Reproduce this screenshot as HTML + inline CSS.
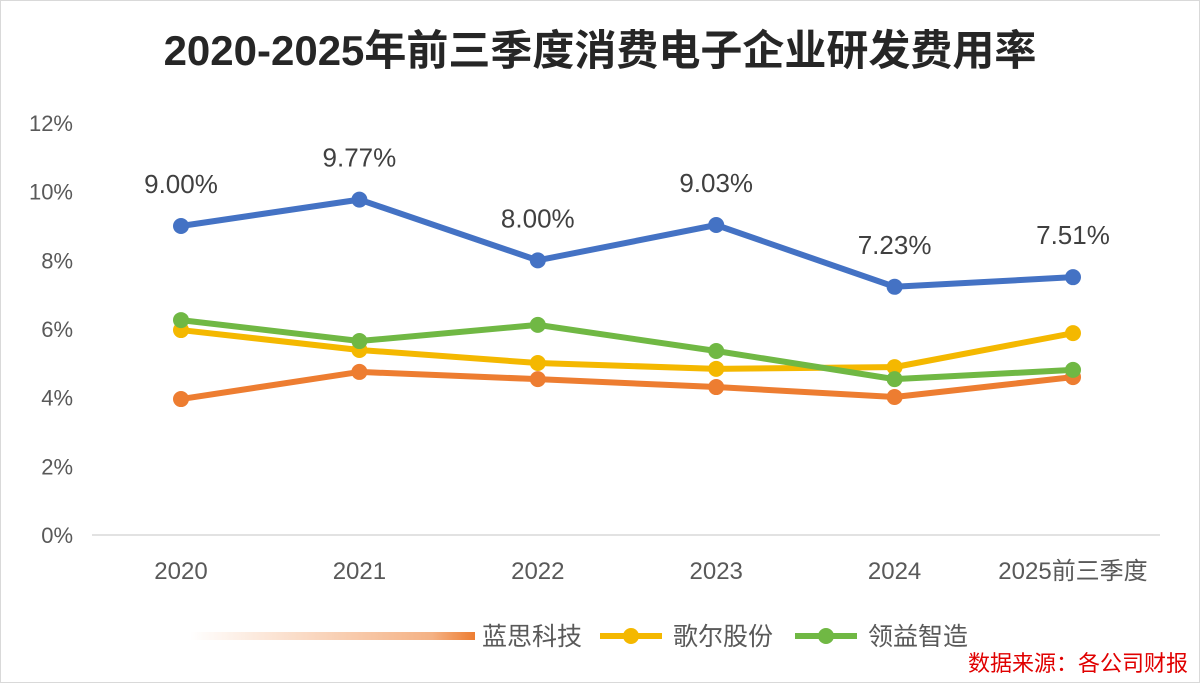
<!DOCTYPE html>
<html><head><meta charset="utf-8"><style>
html,body{margin:0;padding:0;background:#fff}
svg{display:block}
text{font-family:"Liberation Sans","Noto Sans CJK SC",sans-serif}
</style></head><body>
<svg id="chart" width="1200" height="683" viewBox="0 0 1200 683">
<defs><linearGradient id="fade" x1="0" x2="1"><stop offset="0" stop-color="#ed7d31" stop-opacity="0"/><stop offset="0.85" stop-color="#ed7d31" stop-opacity="0.6"/><stop offset="1" stop-color="#ed7d31" stop-opacity="1"/></linearGradient></defs>
<rect x="0.5" y="0.5" width="1199" height="682" fill="#fff" stroke="#d9d9d9"/>
<text x="600" y="65" text-anchor="middle" font-size="42" font-weight="bold" fill="#262626">2020-2025年前三季度消费电子企业研发费用率</text>
<g id="yaxis"></g><g id="xaxis"></g><g id="series"></g>
<g>
<rect x="190" y="632" width="285" height="8" fill="url(#fade)"/>
<text x="482" y="645" font-size="25" fill="#595959">蓝思科技</text>
<line x1="600" y1="636" x2="662" y2="636" stroke="#f4b800" stroke-width="6"/>
<circle cx="631" cy="636" r="8" fill="#f4b800"/>
<text x="673" y="645" font-size="25" fill="#595959">歌尔股份</text>
<line x1="795" y1="636" x2="857" y2="636" stroke="#70b844" stroke-width="6"/>
<circle cx="826" cy="636" r="8" fill="#70b844"/>
<text x="868" y="645" font-size="25" fill="#595959">领益智造</text>
</g>
<text x="1188" y="671" text-anchor="end" font-size="22" fill="#e00000">数据来源：各公司财报</text>
</svg>
<script>
const categories=["2020","2021","2022","2023","2024","2025前三季度"];
const lansi=[3.96,4.75,4.54,4.31,4.02,4.60];
const goer=[5.97,5.39,5.01,4.84,4.89,5.88];
const lingyi=[6.26,5.65,6.12,5.36,4.54,4.81];
const lanLabel=[9.00,9.77,8.00,9.03,7.23,7.51];
const blue=[9.00,9.77,8.00,9.03,7.23,7.51];
const yTicks=[0,2,4,6,8,10,12];
const NS="http://www.w3.org/2000/svg";
const x=i=>181+i*178.4;
const y=v=>535-v*34.33;
function mk(tag,attrs,parent){const e=document.createElementNS(NS,tag);for(const k in attrs)e.setAttribute(k,attrs[k]);parent.appendChild(e);return e;}
const ya=document.getElementById('yaxis'),xa=document.getElementById('xaxis'),sg=document.getElementById('series');
yTicks.forEach(t=>{const e=mk('text',{x:73,y:y(t)+8,'text-anchor':'end','font-size':22,fill:'#595959'},ya);e.textContent=t+'%';

});
const base=mk('line',{x1:92,x2:1160,y1:y(0),y2:y(0),stroke:'#d9d9d9','stroke-width':1.5},xa);


categories.forEach((c,i)=>{const e=mk('text',{x:x(i),y:579,'text-anchor':'middle','font-size':24,fill:'#595959'},xa);e.textContent=c;

});
function series(vals,color,name){const g=mk('g',{},sg);


const p=mk('polyline',{points:vals.map((v,i)=>x(i)+','+y(v)).join(' '),fill:'none',stroke:color,'stroke-width':6,'stroke-linejoin':'round','stroke-linecap':'round'},g);


vals.forEach((v,i)=>{const c=mk('circle',{cx:x(i),cy:y(v),r:8,fill:color},g);

});return g;}
series(lansi,'#ed7d31','lansi');
series(goer,'#f4b800','goer');
series(lingyi,'#70b844','lingyi');
series(blue,'#4472c4','top-company');
blue.forEach((v,i)=>{const t=mk('text',{x:x(i),y:y(v)-33,'text-anchor':'middle','font-size':26,fill:'#404040'},sg);t.textContent=lanLabel[i].toFixed(2)+'%';

});
</script>
</body></html>
